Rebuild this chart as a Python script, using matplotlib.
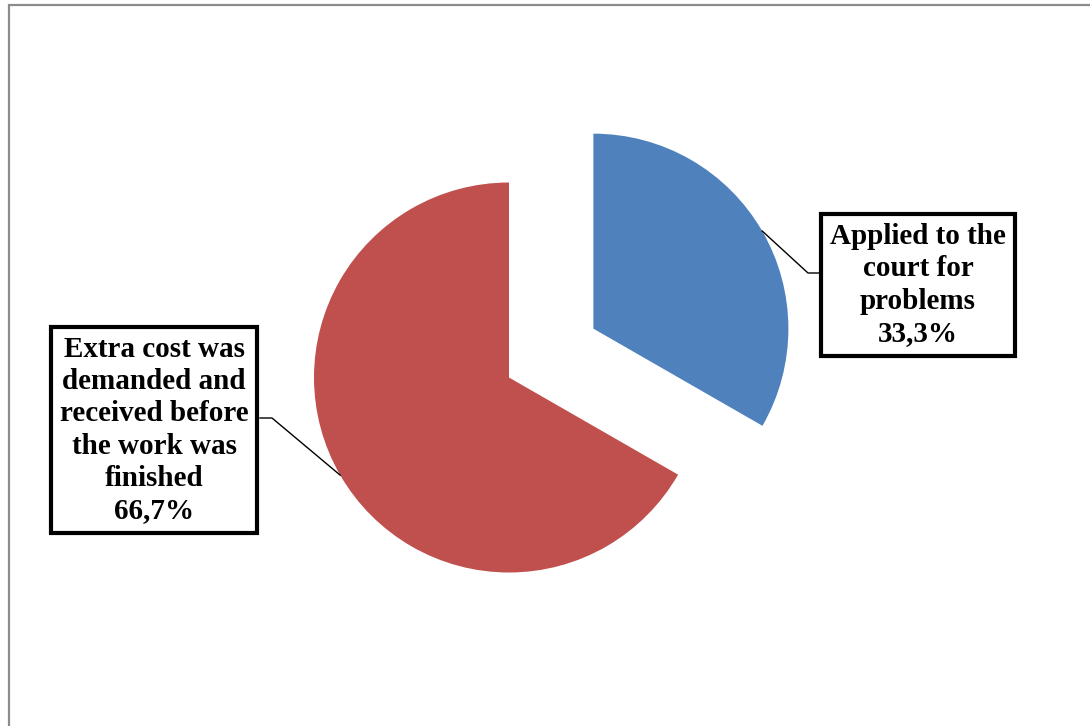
import numpy as np
import matplotlib.pyplot as plt
from matplotlib.patches import Rectangle

# data
categories = ['Applied to the\ncourt for\nproblems', 'Extra cost was\ndemanded and\nreceived before\nthe work was\nfinished']
shares = [33.3, 66.7]
colors = ['#4F81BD', '#C0504D']

W, H = 1090, 726
R = 195
fig = plt.figure(figsize=(W / 100, H / 100), dpi=100)
ax = fig.add_axes([0, 0, 1, 1])

# outer frame of the chart area
fig.patches.append(Rectangle((9 / W, -0.2), 1.2, 1.2 - 5 / H, transform=fig.transFigure,
                             fill=False, edgecolor='#8c8c8c', linewidth=1.6))

wedges, _ = ax.pie(shares, colors=colors, startangle=90, counterclock=False,
                   explode=[0.5 * R, 0], center=(509, H - 377.5), radius=R,
                   wedgeprops=dict(linewidth=0), frame=True)
ax.set_xlim(0, W)
ax.set_ylim(0, H)
ax.set_aspect('equal')
ax.axis('off')

font = dict(family='Liberation Serif', weight='bold', size=21)
box = dict(boxstyle='square,pad=0.3', facecolor='white', edgecolor='black', linewidth=3)

# label box positions (centre) and elbow point of the leader line
label_pos = [(918, H - 285), (154, H - 430)]
elbows = [(808, H - 273), (272, H - 418)]
box_edges = [820, 260]

for w, cat, val, (tx, ty), (ex, ey), bx in zip(wedges, categories, shares, label_pos, elbows, box_edges):
    mid = np.deg2rad((w.theta1 + w.theta2) / 2)
    cx, cy = w.center
    px, py = cx + w.r * np.cos(mid), cy + w.r * np.sin(mid)
    ax.plot([px, ex, bx], [py, ey, ey], color='black', linewidth=1)
    ax.text(tx, ty, f"{cat}\n{val:.1f}%".replace('.', ','), ha='center', va='center',
            linespacing=1.25, bbox=box, **font)

fig.savefig('out.png', dpi=100)
